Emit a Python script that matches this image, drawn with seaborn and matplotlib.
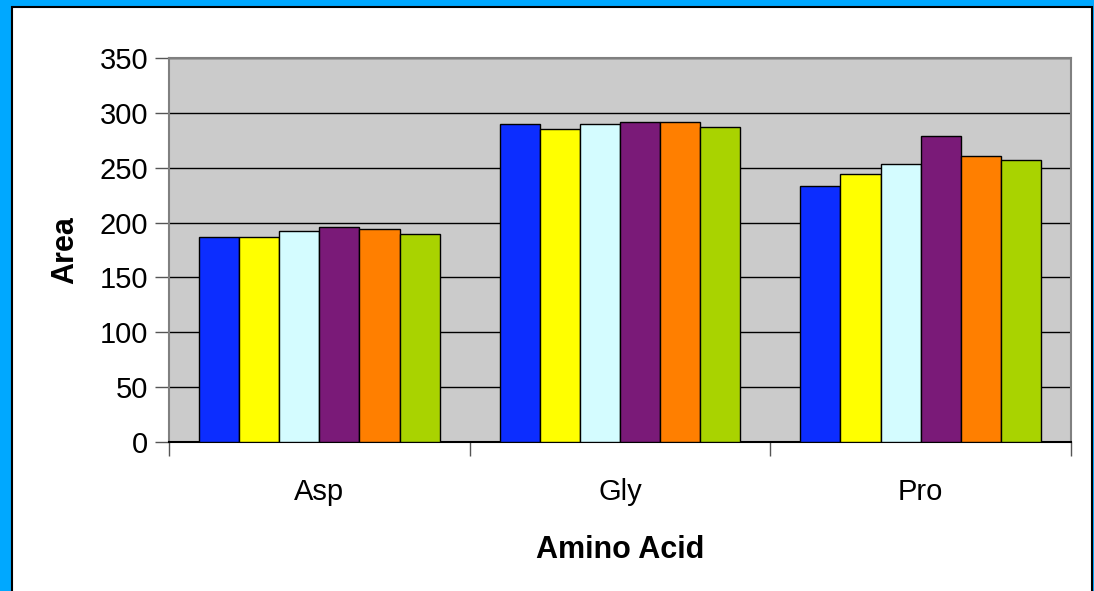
import matplotlib
matplotlib.use("Agg")
import matplotlib.pyplot as plt
import matplotlib.patches as mpatches
import seaborn as sns
import numpy as np
import pandas as pd

amino_acids = ["Asp", "Gly", "Pro"]
runs = ["Run 1", "Run 2", "Run 3", "Run 4", "Run 5", "Run 6"]
run1 = [187, 290, 233]
run2 = [187, 285, 244]
run3 = [192, 290, 253]
run4 = [196, 292, 279]
run5 = [194, 292, 261]
run6 = [190, 287, 257]
bar_colors = ["#0C2DFF", "#FFFF00", "#D4FCFF", "#7A1A78", "#FF7F00", "#A9D300"]

df = pd.DataFrame({
    "Amino Acid": np.tile(amino_acids, len(runs)),
    "Run": np.repeat(runs, len(amino_acids)),
    "Area": run1 + run2 + run3 + run4 + run5 + run6,
})

sns.set_style("white")
plt.rcParams["font.family"] = ["Liberation Sans", "DejaVu Sans"]
plt.rcParams["text.color"] = "black"
plt.rcParams["axes.labelcolor"] = "black"
plt.rcParams["xtick.color"] = "black"
plt.rcParams["ytick.color"] = "black"

fig = plt.figure(figsize=(10.94, 5.91), dpi=100, facecolor="#00A8FF")
# white chart panel on the blue background
panel = mpatches.Rectangle((12 / 1094, -0.05), 1080 / 1094, 1 - 7 / 591 + 0.05,
                           transform=fig.transFigure, facecolor="white",
                           edgecolor="black", linewidth=1.5, zorder=-10)
fig.patches.append(panel)

ax = fig.add_axes([169 / 1094, 1 - 442 / 591, (1071 - 169) / 1094, (442 - 58) / 591])
ax.set_facecolor("#CBCBCB")

sns.barplot(data=df, x="Amino Acid", y="Area", hue="Run", palette=bar_colors,
            width=0.8, gap=0, edgecolor="black", linewidth=1, legend=False,
            saturation=1, ax=ax, zorder=3)

ax.set_ylim(0, 350)
ax.set_xlim(-0.5, 2.5)
ax.set_yticks(np.arange(0, 351, 50))
ax.yaxis.grid(True, color="black", linewidth=1)
ax.set_axisbelow(True)

ax.tick_params(axis="y", labelsize=21, length=10, width=1, color="#555555",
               labelcolor="black", direction="out", left=True, pad=5)
ax.tick_params(axis="x", which="major", labelsize=21, length=0, pad=26,
               labelcolor="black")
ax.set_xticks([-0.5, 0.5, 1.5, 2.5], minor=True)
ax.tick_params(axis="x", which="minor", length=10, width=1, color="#555555",
               direction="out", bottom=True)

for side in ["top", "right", "left"]:
    ax.spines[side].set_color("#808080")
    ax.spines[side].set_linewidth(1.5)
ax.spines["bottom"].set_color("black")
ax.spines["bottom"].set_linewidth(1.5)

ax.set_ylabel("Area", fontsize=22, fontweight="bold", labelpad=14, color="black")
ax.set_xlabel("Amino Acid", fontsize=22, fontweight="bold", labelpad=21, color="black")

fig.savefig("out.png", dpi=100, facecolor=fig.get_facecolor())
